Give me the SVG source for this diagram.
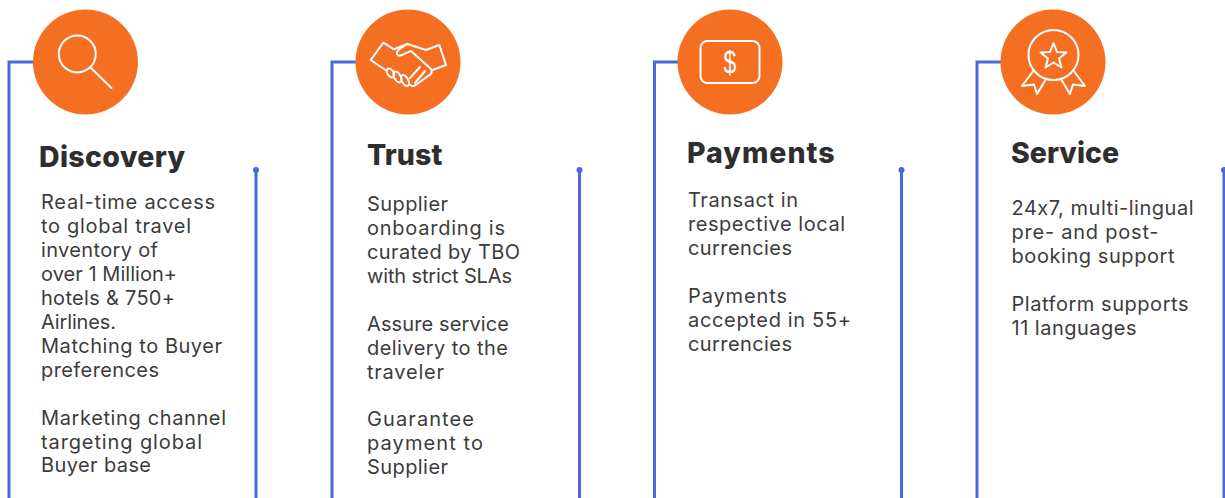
<svg xmlns="http://www.w3.org/2000/svg" width="1225" height="498" viewBox="0 0 1225 498">
<style>
.c{fill:#f56f23}
.i{fill:none;stroke:#fff;stroke-width:2;stroke-linejoin:round;stroke-linecap:round}
.l{fill:none;stroke:#4a69dc;stroke-width:3}
.d{fill:#4a69dc}
text{font-family:"Inter","Liberation Sans",sans-serif;fill:#3c3c3c;font-feature-settings:"calt" 0}
.t{font-size:28.5px;font-weight:800;fill:#2e2e2e}
.b{font-size:20px;font-weight:400}
</style>
<rect width="1225" height="498" fill="#fff"/>
<g id="connectors">
<path class="l" d="M256 171V498M35 62H9V498"/><circle class="d" cx="256" cy="170" r="3"/>
<path class="l" d="M579.500 171V498M358 62H332V498"/><circle class="d" cx="579.500" cy="170" r="3"/>
<path class="l" d="M901.500 171V498M680 62H654.500V498"/><circle class="d" cx="901.500" cy="170" r="3"/>
<path class="l" d="M1224 171V498M1003 62H977V498"/><circle class="d" cx="1224" cy="170" r="3"/>
</g>
<g id="discovery">
<circle class="c" cx="85.500" cy="62" r="52.500"/>
<circle class="i" cx="77.300" cy="54" r="18.500"/><path class="i" d="M91 68L111.500 88"/>
<text class="t" x="39" y="167" letter-spacing=".35">Discovery</text>
<text class="b" x="41" y="209" textLength="174">Real-time access</text>
<text class="b" x="41" y="233" textLength="150">to global travel</text>
<text class="b" x="41" y="257" textLength="117">inventory of</text>
<text class="b" x="41" y="281" textLength="136">over 1 Million+</text>
<text class="b" x="41" y="305" textLength="134">hotels &amp; 750+</text>
<text class="b" x="41" y="329" textLength="75">Airlines.</text>
<text class="b" x="41" y="353" textLength="181">Matching to Buyer</text>
<text class="b" x="41" y="377" textLength="118">preferences</text>
<text class="b" x="41" y="425" textLength="185">Marketing channel</text>
<text class="b" x="41" y="449" textLength="161">targeting global</text>
<text class="b" x="41" y="472" textLength="110">Buyer base</text>
</g>
<g id="trust">
<circle class="c" cx="408" cy="62" r="52.500"/>
<path class="i" d="M370.700 60L383.300 42.700L394 49.300L407.300 44L426 50L439.300 45L446 65L432.700 70"/>
<path class="i" d="M407.300 44L399 49.500C396 52 396 56 400 55.500C404 55 408 52 411 51L431 69C433 72 431 75 428 76L415 85.500C413 87 411 85.500 409 84.500"/>
<path class="i" d="M370.700 60L387 71"/>
<ellipse class="i" cx="390.500" cy="73" rx="3" ry="5" transform="rotate(-35 390.500 73)"/>
<ellipse class="i" cx="397.500" cy="77" rx="3.200" ry="6" transform="rotate(-30 397.500 77)"/>
<ellipse class="i" cx="405" cy="80.500" rx="3.200" ry="6" transform="rotate(-30 405 80.500)"/>
<path class="i" d="M420 67L410 78M425 71L415 83"/>
<text class="t" x="367" y="165" letter-spacing=".1">Trust</text>
<text class="b" x="367" y="211" textLength="81">Supplier</text>
<text class="b" x="367" y="235" textLength="138">onboarding is</text>
<text class="b" x="367" y="259" textLength="153">curated by TBO</text>
<text class="b" x="367" y="283" textLength="145">with strict SLAs</text>
<text class="b" x="367" y="331" textLength="142">Assure service</text>
<text class="b" x="367" y="355" textLength="141">delivery to the</text>
<text class="b" x="367" y="379" textLength="77">traveler</text>
<text class="b" x="367" y="426" textLength="107">Guarantee</text>
<text class="b" x="367" y="450" textLength="116">payment to</text>
<text class="b" x="367" y="474" textLength="81">Supplier</text>
</g>
<g id="payments">
<circle class="c" cx="730" cy="62" r="52.500"/>
<rect class="i" x="700.500" y="41" width="59" height="42" rx="7"/>
<text transform="translate(730 73) scale(.72 1)" text-anchor="middle" style="font-family:'Liberation Sans',sans-serif;font-size:32px;fill:#fff">$</text>
<text class="t" x="687" y="163" letter-spacing="1">Payments</text>
<text class="b" x="688" y="207" textLength="110">Transact in</text>
<text class="b" x="688" y="231" textLength="157">respective local</text>
<text class="b" x="688" y="255" textLength="104">currencies</text>
<text class="b" x="688" y="303" textLength="99">Payments</text>
<text class="b" x="688" y="327" textLength="163">accepted in 55+</text>
<text class="b" x="688" y="351" textLength="104">currencies</text>
</g>
<g id="service">
<circle class="c" cx="1053" cy="62" r="52.500"/>
<circle class="i" cx="1053.500" cy="55" r="25"/>
<path class="i" d="M1053.500 43L1057 52L1066.500 52.500L1059 58.500L1061.500 67.500L1053.500 62.500L1045.500 67.500L1048 58.500L1040.500 52.500L1050 52Z"/>
<path class="i" d="M1034 70L1022 86L1034 84.500L1037 94L1046 79M1073 70L1085 86L1073 84.500L1070 94L1061 79"/>
<text class="t" x="1011" y="163">Service</text>
<text class="b" x="1011.500" y="215" textLength="182">24x7, multi-lingual</text>
<text class="b" x="1011.500" y="239" textLength="147">pre- and post-</text>
<text class="b" x="1011.500" y="263" textLength="163">booking support</text>
<text class="b" x="1011.500" y="311" textLength="177">Platform supports</text>
<text class="b" x="1011.500" y="335" textLength="125">11 languages</text>
</g>
</svg>
